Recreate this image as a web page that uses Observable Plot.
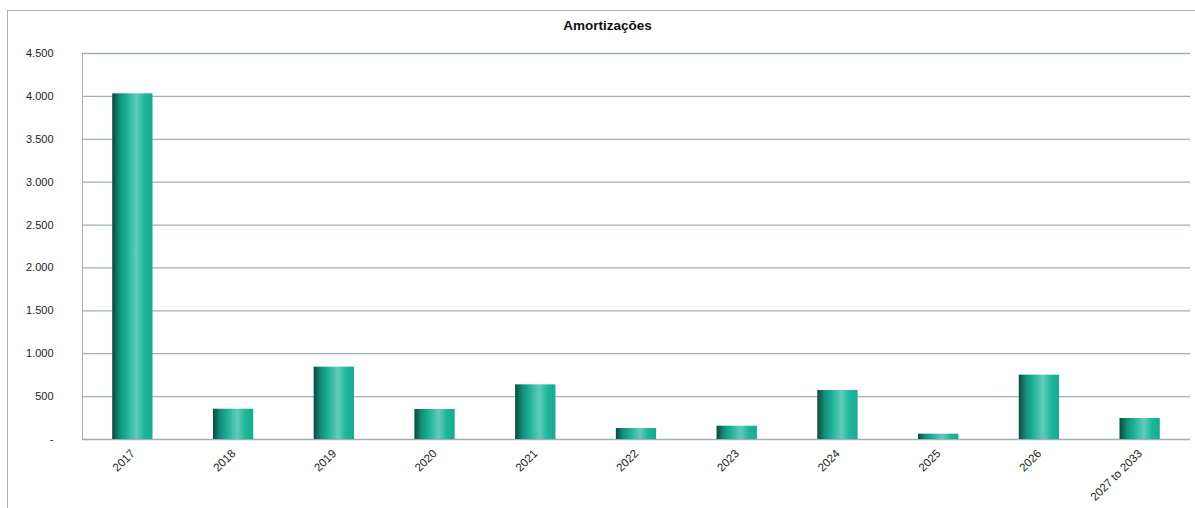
<!DOCTYPE html>
<html>
<head>
<meta charset="utf-8">
<script src="https://cdn.jsdelivr.net/npm/d3@7"></script>
<script src="https://cdn.jsdelivr.net/npm/@observablehq/plot@0.6"></script>
<style>
  html, body { margin: 0; padding: 0; background: #fff; }
  #wrap { position: relative; width: 1195px; height: 508px; overflow: hidden; font-family: "Liberation Sans", Arial, sans-serif; }
  #border { position: absolute; left: 7px; top: 10px; width: 1200px; height: 510px; border-left: 1px solid #a9b1b4; border-top: 1px solid #a9b1b4; box-sizing: border-box; pointer-events: none; }
  #title { position: absolute; left: 0; width: 1215px; top: 18px; text-align: center; font-weight: bold; font-size: 13.5px; color: #111; }
  #chart { position: absolute; left: 0; top: 0; }
</style>
</head>
<body>
<div id="wrap">
  <div id="border"></div>
  <div id="title">Amortizações</div>
  <div id="chart"></div>
</div>
<script>
const categories = ["2017", "2018", "2019", "2020", "2021", "2022", "2023", "2024", "2025", "2026", "2027 to 2033"];
const values = [4030, 353, 843, 350, 637, 128, 155, 571, 62, 750, 245];
const yTicks = [0, 500, 1000, 1500, 2000, 2500, 3000, 3500, 4000, 4500];

const data = categories.map((c, i) => ({category: c, value: values[i]}));
const fmt = d => d === 0 ? "-" : d3.format(",")(d).replace(/,/g, ".");

const plot = Plot.plot({
  width: 1195,
  height: 508,
  marginLeft: 82,
  marginRight: 5,
  marginTop: 53,
  marginBottom: 69,
  style: {background: "transparent", fontFamily: "Liberation Sans, Arial, sans-serif", fontSize: "11px", color: "#222"},
  x: {domain: categories, paddingInner: 0.6, paddingOuter: 0.3, round: false, label: null},
  y: {domain: [0, 4500], label: null},
  marks: [
    Plot.ruleY(yTicks, {stroke: "#9fb0b6", strokeWidth: 1.3}),
    Plot.frame({anchor: "left", stroke: "#a9b1b4"}),
    Plot.barY(data, {x: "category", y: "value", fill: "url(#barGrad)"}),
    Plot.axisY(yTicks, {tickSize: 0, tickPadding: 29, tickFormat: fmt, fontSize: 11, fill: "#222"}),
    Plot.axisX({tickSize: 0, tickRotate: -45, tickPadding: 12, dx: 0, fontSize: 11.5, fill: "#222"})
  ]
});

const ns = "http://www.w3.org/2000/svg";
const defs = document.createElementNS(ns, "defs");
const grad = document.createElementNS(ns, "linearGradient");
grad.setAttribute("id", "barGrad");
grad.setAttribute("x1", "0"); grad.setAttribute("x2", "1");
grad.setAttribute("y1", "0"); grad.setAttribute("y2", "0");
[[0, "#0a4a3e"], [0.18, "#138f78"], [0.35, "#1ab096"], [0.6, "#62ccba"], [0.8, "#1db79b"], [1, "#16aa8f"]].forEach(([o, c]) => {
  const s = document.createElementNS(ns, "stop");
  s.setAttribute("offset", o);
  s.setAttribute("stop-color", c);
  grad.appendChild(s);
});
defs.appendChild(grad);
plot.insertBefore(defs, plot.firstChild);

document.getElementById("chart").appendChild(plot);
</script>
</body>
</html>
